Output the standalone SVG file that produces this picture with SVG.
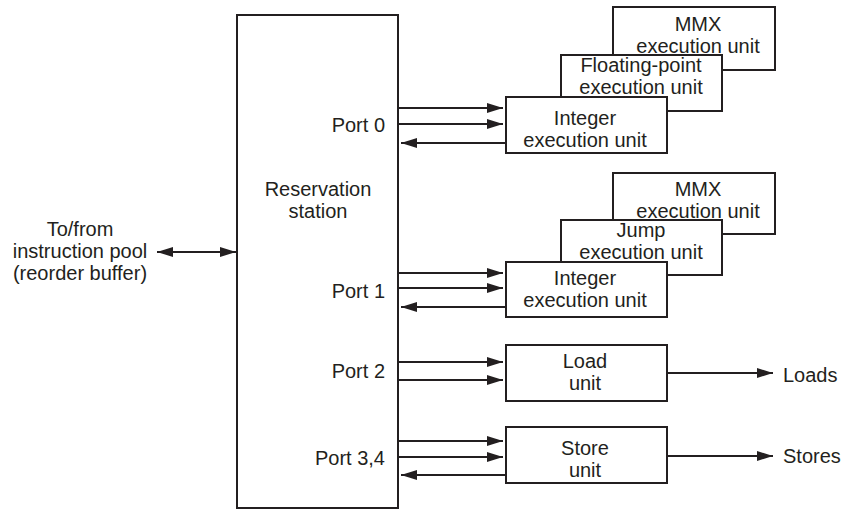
<svg xmlns="http://www.w3.org/2000/svg" width="848" height="510" viewBox="0 0 848 510">
<defs>
<style>
.box{fill:#fff;stroke:#231f20;stroke-width:2}
.ln{fill:none;stroke:#231f20;stroke-width:2}
text{font-family:"Liberation Sans",Arial,sans-serif;font-size:20px;fill:#231f20}
.m{text-anchor:middle}
.r{text-anchor:end}
</style>
<marker id="ah" markerUnits="userSpaceOnUse" markerWidth="17" markerHeight="11" refX="16" refY="5" orient="auto">
<path d="M0,0 L16,5 L0,10 z" fill="#231f20"/>
</marker>
<marker id="ahs" markerUnits="userSpaceOnUse" markerWidth="17" markerHeight="11" refX="16" refY="5" orient="auto-start-reverse">
<path d="M0,0 L16,5 L0,10 z" fill="#231f20"/>
</marker>
</defs>
<rect width="848" height="510" fill="#fff"/>

<g id="reservation-station">
<rect class="box" x="237" y="15" width="161" height="493"/>
<text class="m" x="318" y="195.5">Reservation</text>
<text class="m" x="318" y="217.5">station</text>
<text class="r" x="385" y="132">Port 0</text>
<text class="r" x="385" y="298">Port 1</text>
<text class="r" x="385" y="378">Port 2</text>
<text class="r" x="385" y="465">Port 3,4</text>
</g>

<g id="pool-label">
<text class="m" x="80" y="236">To/from</text>
<text class="m" x="80" y="258">instruction pool</text>
<text class="m" x="80" y="280">(reorder buffer)</text>
</g>

<g id="mmx0">
<rect class="box" x="613" y="7" width="162" height="63"/>
<text class="m" x="698" y="30.5">MMX</text>
<text class="m" x="698" y="52.5">execution unit</text>
</g>
<g id="fp">
<rect class="box" x="561" y="55" width="161" height="56"/>
<text class="m" x="641" y="72">Floating-point</text>
<text class="m" x="641" y="94">execution unit</text>
</g>
<g id="int0">
<rect class="box" x="506" y="97" width="161" height="56"/>
<text class="m" x="585" y="124.5">Integer</text>
<text class="m" x="585" y="146.5">execution unit</text>
</g>

<g id="mmx1">
<rect class="box" x="613" y="173" width="162" height="61"/>
<text class="m" x="698" y="195.5">MMX</text>
<text class="m" x="698" y="217.5">execution unit</text>
</g>
<g id="jump">
<rect class="box" x="561" y="220" width="161" height="55"/>
<text class="m" x="641" y="236.5">Jump</text>
<text class="m" x="641" y="258.5">execution unit</text>
</g>
<g id="int1">
<rect class="box" x="506" y="262" width="161" height="55"/>
<text class="m" x="585" y="285">Integer</text>
<text class="m" x="585" y="307">execution unit</text>
</g>

<g id="load">
<rect class="box" x="506" y="345" width="161" height="56"/>
<text class="m" x="585" y="368">Load</text>
<text class="m" x="585" y="390">unit</text>
</g>
<g id="store">
<rect class="box" x="506" y="427" width="161" height="56"/>
<text class="m" x="585" y="455">Store</text>
<text class="m" x="585" y="477">unit</text>
</g>

<g id="outputs">
<text x="783" y="382">Loads</text>
<text x="783" y="463">Stores</text>
</g>

<g id="connectors">
<line class="ln" x1="157" y1="252" x2="236" y2="252" marker-start="url(#ahs)" marker-end="url(#ah)"/>
<line class="ln" x1="398" y1="108" x2="503" y2="108" marker-end="url(#ah)"/>
<line class="ln" x1="398" y1="124" x2="503" y2="124" marker-end="url(#ah)"/>
<line class="ln" x1="506" y1="143" x2="401" y2="143" marker-end="url(#ah)"/>
<line class="ln" x1="398" y1="273" x2="503" y2="273" marker-end="url(#ah)"/>
<line class="ln" x1="398" y1="288" x2="503" y2="288" marker-end="url(#ah)"/>
<line class="ln" x1="506" y1="307" x2="401" y2="307" marker-end="url(#ah)"/>
<line class="ln" x1="398" y1="362" x2="503" y2="362" marker-end="url(#ah)"/>
<line class="ln" x1="398" y1="380" x2="503" y2="380" marker-end="url(#ah)"/>
<line class="ln" x1="398" y1="441" x2="503" y2="441" marker-end="url(#ah)"/>
<line class="ln" x1="398" y1="457" x2="503" y2="457" marker-end="url(#ah)"/>
<line class="ln" x1="506" y1="475" x2="401" y2="475" marker-end="url(#ah)"/>
<line class="ln" x1="667" y1="373" x2="773" y2="373" marker-end="url(#ah)"/>
<line class="ln" x1="667" y1="456" x2="773" y2="456" marker-end="url(#ah)"/>
</g>
</svg>
